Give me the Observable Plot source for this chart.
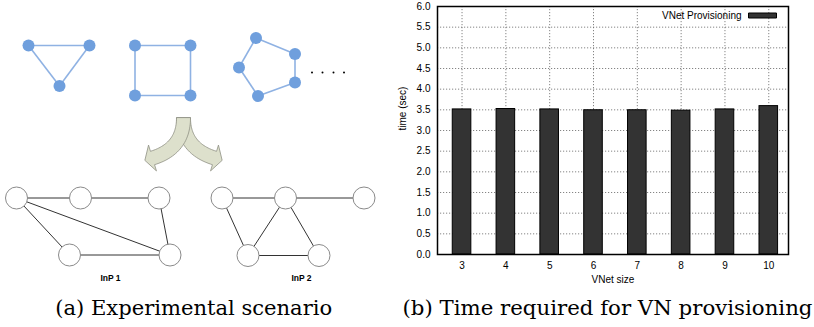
<!DOCTYPE html>
<html><head><meta charset="utf-8">
<script src="https://cdn.jsdelivr.net/npm/d3@7"></script>
<script src="https://cdn.jsdelivr.net/npm/@observablehq/plot@0.6"></script>
<style>
html,body{margin:0;padding:0;background:#fff;}
#root{position:relative;width:814px;height:327px;overflow:hidden;}
#root > *{position:absolute;}
.cap{font-family:"DejaVu Serif","Liberation Serif",serif;}
</style></head><body><div id="root"></div>
<script>
// ---------- bar chart data ----------
const vnetSizes = [3, 4, 5, 6, 7, 8, 9, 10];
const provisioningTimes = [3.51, 3.52, 3.51, 3.49, 3.49, 3.48, 3.51, 3.59];
const yTickValues = [0, 0.5, 1, 1.5, 2, 2.5, 3, 3.5, 4, 4.5, 5, 5.5, 6];
const seriesName = "VNet Provisioning";
const xLabel = "VNet size";
const yLabel = "time (sec)";
const captionA = "(a) Experimental scenario";
const captionB = "(b) Time required for VN provisioning";

// ---------- diagram data ----------
const triangleNodes = [{id:"t1",x:28,y:45},{id:"t2",x:89,y:45},{id:"t3",x:59,y:85.5}];
const triangleEdges = [["t1","t2"],["t2","t3"],["t3","t1"]];
const squareNodes = [{id:"s1",x:134.5,y:45},{id:"s2",x:190,y:45},{id:"s3",x:190,y:95},{id:"s4",x:134.5,y:95}];
const squareEdges = [["s1","s2"],["s2","s3"],["s3","s4"],["s4","s1"]];
const pentagonNodes = [{id:"p1",x:255.5,y:37.5},{id:"p2",x:294.5,y:53.5},{id:"p3",x:294.5,y:82},{id:"p4",x:257.5,y:95.5},{id:"p5",x:238.5,y:67}];
const pentagonEdges = [["p1","p2"],["p2","p3"],["p3","p4"],["p4","p5"],["p5","p1"]];
const ellipsisDots = [{x:311.5,y:72},{x:322,y:72},{x:333,y:72},{x:343.5,y:72}];
const inp1Nodes = [{id:"a1",x:16,y:197.5},{id:"a2",x:80,y:197.5},{id:"a3",x:158.5,y:197.5},{id:"a4",x:69,y:254.5},{id:"a5",x:169.5,y:254.5}];
const inp1Edges = [["a1","a2"],["a2","a3"],["a1","a4"],["a1","a5"],["a3","a5"],["a4","a5"]];
const inp2Nodes = [{id:"b1",x:221.5,y:197.5},{id:"b2",x:285,y:197.5},{id:"b3",x:363.5,y:197.5},{id:"b4",x:247.5,y:255},{id:"b5",x:318.5,y:255}];
const inp2Edges = [["b1","b2"],["b2","b3"],["b1","b4"],["b2","b4"],["b2","b5"],["b4","b5"]];
const inpLabels = [{text:"InP 1",x:110,y:278},{text:"InP 2",x:301,y:278}];
const arrowArms = [
  {arm:"right", start:[183,117.5], control:[183,148], end:[214,157.5]},
  {arm:"left",  start:[183,117.5], control:[183,148], end:[152,157.5]}
];
const arrowShaftWidth = 14, arrowHeadHalf = 13.5, arrowHeadLength = 8;

// ---------- helpers ----------
function toLinks(nodes, edges) {
  const byId = new Map(nodes.map(n => [n.id, n]));
  return edges.map(([a, b]) => ({x1: byId.get(a).x, y1: byId.get(a).y, x2: byId.get(b).x, y2: byId.get(b).y}));
}
function armOutline({arm, start, control, end}) {
  const N = 30, pts = [];
  for (let i = 0; i <= N; i++) {
    const t = i / N, u = 1 - t;
    const x = u*u*start[0] + 2*u*t*control[0] + t*t*end[0];
    const y = u*u*start[1] + 2*u*t*control[1] + t*t*end[1];
    let tx = 2*u*(control[0]-start[0]) + 2*t*(end[0]-control[0]);
    let ty = 2*u*(control[1]-start[1]) + 2*t*(end[1]-control[1]);
    const L = Math.hypot(tx, ty); tx /= L; ty /= L;
    pts.push({x, y, tx, ty, nx: -ty, ny: tx});
  }
  const h = arrowShaftWidth / 2, out = [];
  for (const p of pts) out.push({arm, x: p.x + p.nx*h, y: p.y + p.ny*h});
  const e = pts[pts.length - 1];
  out.push({arm, x: e.x + e.nx*arrowHeadHalf, y: e.y + e.ny*arrowHeadHalf});
  out.push({arm, x: e.x + e.tx*arrowHeadLength, y: e.y + e.ty*arrowHeadLength});
  out.push({arm, x: e.x - e.nx*arrowHeadHalf, y: e.y - e.ny*arrowHeadHalf});
  for (const p of pts.slice().reverse()) out.push({arm, x: p.x - p.nx*h, y: p.y - p.ny*h});
  return out;
}

const root = document.getElementById("root");

// ---------- left: diagram ----------
const blueNodes = [...triangleNodes, ...squareNodes, ...pentagonNodes];
const blueLinks = [...toLinks(triangleNodes, triangleEdges), ...toLinks(squareNodes, squareEdges), ...toLinks(pentagonNodes, pentagonEdges)];
const inpNodes = [...inp1Nodes, ...inp2Nodes];
const inpLinks = [...toLinks(inp1Nodes, inp1Edges), ...toLinks(inp2Nodes, inp2Edges)];
const arrowPoly = arrowArms.flatMap(armOutline);

const diagram = Plot.plot({
  width: 400, height: 290, margin: 0,
  x: {domain: [0, 400], range: [0, 400], axis: null},
  y: {domain: [0, 290], range: [0, 290], axis: null},
  style: {fontFamily: "'Liberation Sans', Arial, sans-serif", background: "transparent"},
  marks: [
    Plot.link(blueLinks, {x1: "x1", y1: "y1", x2: "x2", y2: "y2", stroke: "#8fb2e3", strokeWidth: 1.6}),
    Plot.dot(blueNodes, {x: "x", y: "y", r: 6, fill: "#6f9fdd", stroke: "none"}),
    Plot.dot(ellipsisDots, {x: "x", y: "y", r: 1, fill: "#000", stroke: "none"}),
    Plot.line(arrowPoly, {x: "x", y: "y", z: "arm", curve: "linear-closed", fill: "#dde0cc", stroke: "#8f9184", strokeWidth: 0.8}),
    Plot.link(inpLinks, {x1: "x1", y1: "y1", x2: "x2", y2: "y2", stroke: "#333", strokeWidth: 1}),
    Plot.dot(inpNodes, {x: "x", y: "y", r: 11, fill: "#fff", stroke: "#8a8a8a", strokeWidth: 1}),
    Plot.text(inpLabels, {x: "x", y: "y", text: "text", fontWeight: "bold", fontSize: 8.5, fill: "#000"})
  ]
});
diagram.style.left = "0px"; diagram.style.top = "0px";
root.appendChild(diagram);

// ---------- right: bar chart ----------
const rows = vnetSizes.map((s, i) => ({size: s, time: provisioningTimes[i]}));
const barHalf = 0.212;
const rectSymbol = {draw(ctx) { ctx.rect(-14, -2.5, 28, 5); }};
const dotted = {stroke: "#666", strokeOpacity: 1, strokeWidth: 0.8, strokeDasharray: "1.2,1.8"};

const chart = Plot.plot({
  width: 414, height: 287,
  marginLeft: 42, marginRight: 21, marginTop: 6, marginBottom: 33,
  x: {type: "linear", domain: [2.44, 10.45]},
  y: {domain: [0, 6]},
  style: {fontFamily: "'Liberation Sans', Arial, sans-serif", fontSize: "10px", color: "#000", background: "transparent"},
  marks: [
    Plot.gridY(yTickValues, dotted),
    Plot.gridX(vnetSizes, dotted),
    Plot.rectY(rows, {x1: d => d.size - barHalf, x2: d => d.size + barHalf, y: "time", fill: "#333", stroke: "#000", strokeWidth: 1}),
    Plot.axisY(yTickValues, {tickFormat: d3.format(".1f"), tickSize: 0, tickPadding: 7, label: null}),
    Plot.axisX(vnetSizes, {tickSize: 0, tickPadding: 7, label: null}),
    Plot.frame({stroke: "#000", strokeWidth: 1.5}),
    Plot.text([xLabel], {frameAnchor: "bottom", lineAnchor: "middle", dy: 25, fill: "#000"}),
    Plot.text([yLabel], {frameAnchor: "left", lineAnchor: "middle", rotate: -90, dx: -35, fill: "#000"}),
    Plot.text([seriesName], {frameAnchor: "top-right", lineAnchor: "middle", textAnchor: "end", dx: -47, dy: 9, fill: "#000"}),
    Plot.dot([seriesName], {frameAnchor: "top-right", dx: -26, dy: 9, symbol: rectSymbol, fill: "#333", stroke: "#000", strokeWidth: 1})
  ]
});
chart.style.left = "395px"; chart.style.top = "0px";
root.appendChild(chart);

// ---------- captions ----------
const caps = d3.create("svg").attr("width", 814).attr("height", 327)
  .style("left", "0px").style("top", "0px").style("pointer-events", "none");
caps.selectAll("text").data([
  {text: captionA, x: 193.7, w: 277},
  {text: captionB, x: 607.5, w: 410}
]).join("text")
  .attr("class", "cap")
  .attr("x", d => d.x).attr("y", 315)
  .attr("text-anchor", "middle")
  .attr("textLength", d => d.w).attr("lengthAdjust", "spacingAndGlyphs")
  .attr("font-size", 21).attr("fill", "#000")
  .text(d => d.text);
root.appendChild(caps.node());
</script></body></html>
